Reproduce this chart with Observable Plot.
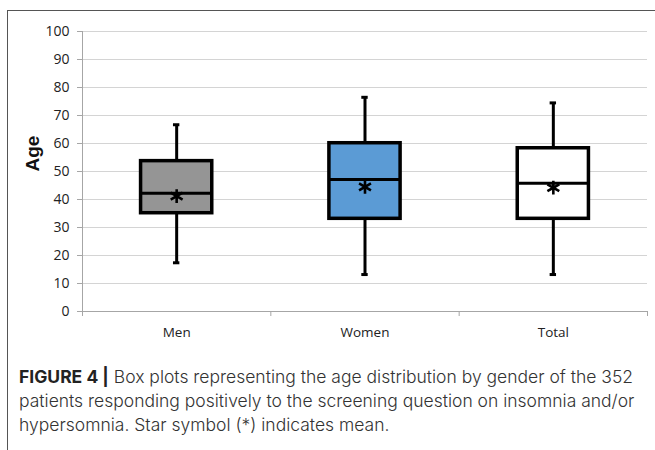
<!DOCTYPE html>
<html>
<head>
<meta charset="utf-8">
<script src="https://cdn.jsdelivr.net/npm/d3@7"></script>
<script src="https://cdn.jsdelivr.net/npm/@observablehq/plot@0.6"></script>
<style>
  html, body { margin: 0; padding: 0; background: #fff; }
  body { width: 655px; height: 450px; position: relative; overflow: hidden; }
  #frame { position: absolute; left: 7px; top: 10px; width: 700px; height: 460px;
           border-left: 1.5px solid #555; border-top: 1.5px solid #555; }
  #chart { position: absolute; left: 0; top: 0; }
  #caption { position: absolute; left: 19px; top: 365px; width: 636px; white-space: nowrap;
             font-family: Inter, "Open Sans", sans-serif; font-weight: 300;
             font-size: 17.5px; line-height: 24px; color: #333; }
  #caption b { color: #222; font-weight: 700; }
</style>
</head>
<body>
<div id="frame"></div>
<div id="chart"></div>
<div id="caption"><b>FIGURE 4 |</b> Box plots representing the age distribution by gender of the 352<br>patients responding positively to the screening question on insomnia and/or<br>hypersomnia. Star symbol (*) indicates mean.</div>
<script>
const categories = ["Men", "Women", "Total"];
const whiskerLow = [17.4, 13.2, 13.2];
const q1 = [35.1, 33.1, 33.1];
const median = [42.2, 47.1, 45.8];
const q3 = [53.7, 60.1, 58.3];
const whiskerHigh = [66.7, 76.5, 74.5];
const mean = [41.2, 44.5, 44.2];
const fills = ["#959595", "#5b9bd5", "#ffffff"];
const yTicks = [0, 10, 20, 30, 40, 50, 60, 70, 80, 90, 100];

const rows = categories.map((c, i) => ({
  cat: c, pos: i + 0.5, lo: whiskerLow[i], q1: q1[i], med: median[i],
  q3: q3[i], hi: whiskerHigh[i], mean: mean[i], fill: fills[i]
}));
const boxHalf = 0.189;
const capHalf = 0.017;
const bounds = d3.range(categories.length + 1);

const chart = Plot.plot({
  width: 655,
  height: 345,
  marginLeft: 82,
  marginRight: 8,
  marginTop: 31,
  marginBottom: 34,
  style: { fontFamily: "'Open Sans', sans-serif", background: "transparent" },
  x: { type: "linear", domain: [0, categories.length], axis: null, label: null },
  y: { domain: [0, 100], axis: null, label: null },
  marks: [
    Plot.ruleY(yTicks.filter(t => t > 0), { stroke: "#d4d4d4", strokeWidth: 1 }),
    Plot.ruleY([0], { stroke: "#a6a6a6", strokeWidth: 1 }),
    Plot.ruleX([0], { y1: 0, y2: 100, stroke: "#a6a6a6", strokeWidth: 1 }),
    Plot.axisY({ ticks: yTicks, tickSize: 5, tickPadding: 8, fontSize: 14, stroke: "#a6a6a6", color: "#222", tickFormat: d3.format("d"), label: null }),
    Plot.axisX({ ticks: bounds, tickSize: 5, tickFormat: () => "", stroke: "#a6a6a6", label: null }),
    Plot.text(rows, { x: "pos", y: 0, text: "cat", dy: 21, fontSize: 13.5, fill: "#222" }),
    Plot.text(["Age"], { text: d => d, frameAnchor: "left", rotate: -90, dx: -50, fontSize: 19, fontWeight: "bold", fill: "#111", fontFamily: "'Liberation Sans', Arial, sans-serif" }),
    // whiskers
    Plot.ruleX(rows, { x: "pos", y1: "lo", y2: "hi", stroke: "#000", strokeWidth: 3 }),
    Plot.ruleY(rows, { y: "lo", x1: d => d.pos - capHalf, x2: d => d.pos + capHalf, stroke: "#000", strokeWidth: 3 }),
    Plot.ruleY(rows, { y: "hi", x1: d => d.pos - capHalf, x2: d => d.pos + capHalf, stroke: "#000", strokeWidth: 3 }),
    // boxes
    Plot.rect(rows, { x1: d => d.pos - boxHalf, x2: d => d.pos + boxHalf, y1: "q1", y2: "q3", fill: "fill", stroke: "#000", strokeWidth: 3.5 }),
    Plot.ruleY(rows, { y: "med", x1: d => d.pos - boxHalf, x2: d => d.pos + boxHalf, stroke: "#000", strokeWidth: 3 }),
    // means
    Plot.dot(rows, { x: "pos", y: "mean", symbol: "asterisk", r: 6.5, stroke: "#000", strokeWidth: 2.6 })
  ]
});
document.getElementById("chart").appendChild(chart);
</script>
</body>
</html>
